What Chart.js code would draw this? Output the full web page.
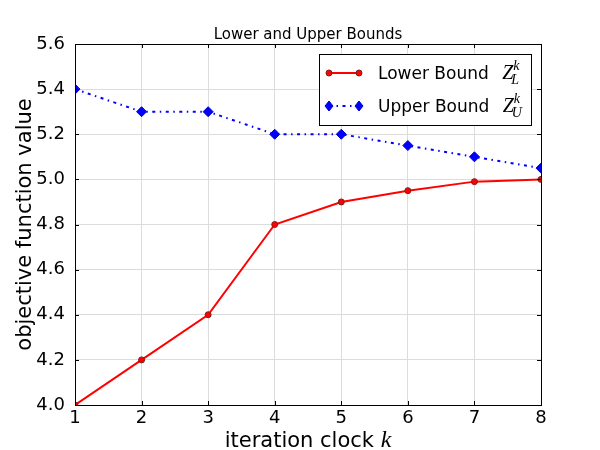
<!DOCTYPE html>
<html><head><meta charset="utf-8">
<script src="https://cdn.jsdelivr.net/npm/chart.js@4/dist/chart.umd.min.js"></script>
<style>html,body{margin:0;padding:0;background:#fff}#wrap{width:600px;height:450px}</style>
</head><body><div id="wrap"><canvas id="c" width="600" height="450"></canvas></div>
<script>
const iterations = [1, 2, 3, 4, 5, 6, 7, 8];
const lowerBound = [4.0, 4.2, 4.4, 4.8, 4.9, 4.95, 4.99, 5.0];
const upperBound = [5.4, 5.3, 5.3, 5.2, 5.2, 5.15, 5.1, 5.05];
const yTicks = [4.0, 4.2, 4.4, 4.6, 4.8, 5.0, 5.2, 5.4, 5.6];
const xTicks = [1, 2, 3, 4, 5, 6, 7, 8];
const chartTitle = "Lower and Upper Bounds";
const xLabel = "iteration clock ";
const yLabel = "objective function value";
const seriesNames = ["Lower Bound ", "Upper Bound "];
const seriesSubs = ["L", "U"];

const FONT = "'DejaVu Sans', sans-serif";
const MATH = "'Liberation Serif', 'DejaVu Serif', serif";

function drawMathZ(ctx, x, y, sub) {
  ctx.font = "italic 20px " + MATH;
  ctx.textBaseline = "alphabetic";
  ctx.fillText("Z", x, y);
  const w = ctx.measureText("Z").width;
  ctx.font = "italic 14px " + MATH;
  ctx.fillText("k", x + w, y - 9);
  ctx.fillText(sub, x + w - 2, y + 5);
}

const decor = {
  id: 'decor',
  afterDatasetsDraw(chart) {
    const ctx = chart.ctx, a = chart.chartArea;
    const xs = chart.scales.x, ys = chart.scales.y;
    ctx.save();
    ctx.strokeStyle = '#000'; ctx.lineWidth = 1;
    ctx.strokeRect(Math.round(a.left) + 0.5, Math.round(a.top) + 0.5, Math.round(a.right - a.left), Math.round(a.bottom - a.top));
    ctx.beginPath();
    xTicks.forEach(v => {
      const px = Math.round(xs.getPixelForValue(v)) + 0.5;
      ctx.moveTo(px, a.bottom); ctx.lineTo(px, a.bottom - 4);
      ctx.moveTo(px, a.top); ctx.lineTo(px, a.top + 4);
    });
    yTicks.forEach(v => {
      const py = Math.round(ys.getPixelForValue(v)) + 0.5;
      ctx.moveTo(a.left, py); ctx.lineTo(a.left + 4, py);
      ctx.moveTo(a.right, py); ctx.lineTo(a.right - 4, py);
    });
    ctx.stroke();
    ctx.restore();
  },
  afterDraw(chart) {
    const ctx = chart.ctx, a = chart.chartArea;
    const cx = (a.left + a.right) / 2;
    ctx.save();
    ctx.fillStyle = '#000';
    ctx.font = "15px " + FONT;
    ctx.textAlign = 'center'; ctx.textBaseline = 'alphabetic';
    ctx.fillText(chartTitle, cx, 39);
    // x label
    ctx.textAlign = 'left';
    ctx.font = "21px " + FONT;
    const w1 = ctx.measureText(xLabel).width;
    ctx.font = "italic 24px " + MATH;
    const w2 = ctx.measureText("k").width;
    const sx = cx - (w1 + w2) / 2;
    ctx.font = "21px " + FONT;
    ctx.fillText(xLabel, sx, 447);
    ctx.font = "italic 24px " + MATH;
    ctx.fillText("k", sx + w1, 447);
    // y label
    ctx.save();
    ctx.translate(31, (a.top + a.bottom) / 2);
    ctx.rotate(-Math.PI / 2);
    ctx.font = "21px " + FONT;
    ctx.textAlign = 'center';
    ctx.fillText(yLabel, 0, 0);
    ctx.restore();
    // legend
    const lx = 319.5, ly = 54.5, lw = 212, lh = 71;
    ctx.fillStyle = '#fff';
    ctx.fillRect(lx, ly, lw, lh);
    ctx.strokeStyle = '#000'; ctx.lineWidth = 1;
    ctx.strokeRect(lx, ly, lw, lh);
    const rows = [73, 106];
    chart.data.datasets.forEach((ds, i) => {
      const ry = rows[i];
      ctx.save();
      ctx.strokeStyle = ds.borderColor; ctx.lineWidth = 2;
      ctx.setLineDash(ds.borderDash || []);
      ctx.beginPath(); ctx.moveTo(329, ry); ctx.lineTo(359, ry); ctx.stroke();
      ctx.restore();
      [329, 359].forEach(px => {
        ctx.fillStyle = ds.pointBackgroundColor; ctx.strokeStyle = ds.pointBorderColor;
        ctx.lineWidth = ds.pointBorderWidth;
        ctx.beginPath();
        if (ds.pointStyle === 'circle') {
          ctx.arc(px, ry, ds.pointRadius, 0, Math.PI * 2);
        } else {
          const r = ds.pointRadius;
          ctx.moveTo(px, ry - r); ctx.lineTo(px + r * 0.8, ry); ctx.lineTo(px, ry + r); ctx.lineTo(px - r * 0.8, ry); ctx.closePath();
        }
        ctx.fill(); ctx.stroke();
      });
      ctx.fillStyle = '#000';
      ctx.font = "17px " + FONT;
      ctx.textAlign = 'left'; ctx.textBaseline = 'alphabetic';
      ctx.fillText(seriesNames[i], 378, ry + 6);
      const tw = ctx.measureText(seriesNames[i]).width;
      drawMathZ(ctx, 378 + tw + 8, ry + 6, seriesSubs[i]);
    });
    ctx.restore();
  }
};

new Chart(document.getElementById('c'), {
  type: 'line',
  data: {
    datasets: [
      {
        label: 'Lower Bound',
        data: iterations.map((x, i) => ({ x: x, y: lowerBound[i] })),
        borderColor: '#ff0000', backgroundColor: '#ff0000', borderWidth: 2,
        pointStyle: 'circle', pointRadius: 3, pointBorderWidth: 1,
        pointBackgroundColor: '#ff0000', pointBorderColor: '#7a2020',
        tension: 0, clip: 0, fill: false
      },
      {
        label: 'Upper Bound',
        data: iterations.map((x, i) => ({ x: x, y: upperBound[i] })),
        borderColor: '#0000ff', backgroundColor: '#0000ff', borderWidth: 2,
        borderDash: [3, 4.5, 1.5, 4.5],
        pointStyle: 'rectRot', pointRadius: 5, pointBorderWidth: 1,
        pointBackgroundColor: '#0000ff', pointBorderColor: '#0000cc',
        tension: 0, clip: 0, fill: false
      }
    ]
  },
  options: {
    responsive: false, animation: false, devicePixelRatio: 1,
    layout: { padding: { top: 44, right: 59, left: 0, bottom: 0 } },
    plugins: { legend: { display: false }, tooltip: { enabled: false }, title: { display: false } },
    scales: {
      x: {
        type: 'linear', min: 1, max: 8,
        afterFit(s) { s.height = 45; },
        afterBuildTicks(s) { s.ticks = xTicks.map(v => ({ value: v })); },
        grid: { color: '#dcdcdc', drawTicks: false, lineWidth: 1 },
        border: { display: true, color: '#000', width: 1 },
        ticks: { color: '#000', font: { family: FONT, size: 18 }, padding: 3, maxRotation: 0,
          callback: v => String(v) }
      },
      y: {
        type: 'linear', min: 4.0, max: 5.6,
        afterFit(s) { s.width = 75; },
        afterBuildTicks(s) { s.ticks = yTicks.map(v => ({ value: v })); },
        grid: { color: '#dcdcdc', drawTicks: false, lineWidth: 1 },
        border: { display: true, color: '#000', width: 1 },
        ticks: { color: '#000', font: { family: FONT, size: 18 }, padding: 10,
          callback: v => Number(v).toFixed(1) }
      }
    }
  },
  plugins: [decor]
});
</script>
</body></html>
